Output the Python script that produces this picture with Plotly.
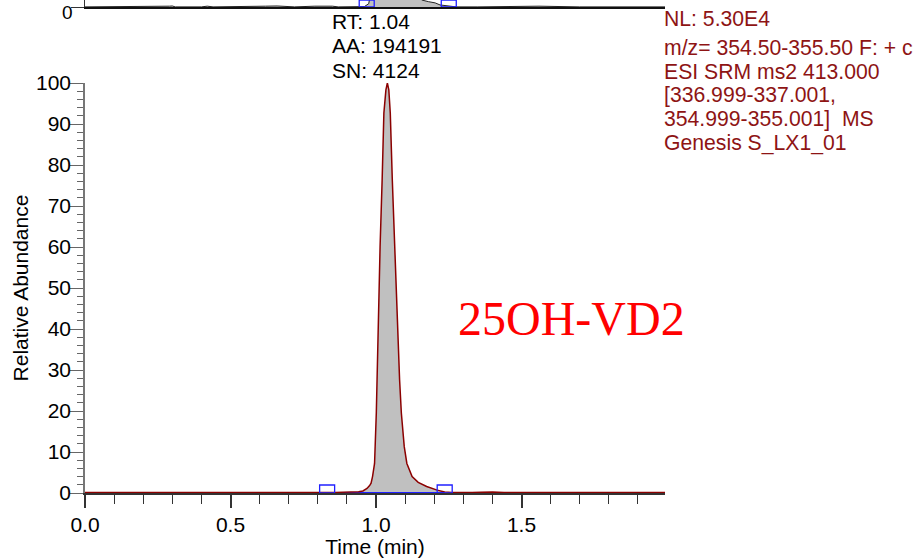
import plotly.graph_objects as go

# ---------------- data ----------------
# main chromatogram (25OH-VD2), time in min, relative abundance in %
main_time = [0.00, 0.04, 0.08, 0.12, 0.16, 0.20, 0.24, 0.28, 0.32, 0.36,
             0.40, 0.44, 0.48, 0.52, 0.56, 0.60, 0.63, 0.66, 0.70, 0.74,
             0.78, 0.81, 0.832, 0.86, 0.89, 0.92, 0.94, 0.955, 0.969, 0.978,
             0.983, 0.988, 0.995, 1.001, 1.0035, 1.008, 1.014, 1.021, 1.027, 1.034,
             1.039, 1.044, 1.049, 1.056, 1.064, 1.072, 1.081, 1.087, 1.097, 1.106,
             1.124, 1.145, 1.174, 1.21, 1.236, 1.26, 1.29, 1.33, 1.36, 1.38,
             1.40, 1.44, 1.48, 1.52, 1.56, 1.60, 1.64, 1.68, 1.72, 1.76,
             1.80, 1.84, 1.88, 1.92, 1.96, 1.993]
main_abund = [0.10, 0.15, 0.10, 0.12, 0.10, 0.15, 0.10, 0.12, 0.10, 0.15,
              0.12, 0.10, 0.15, 0.12, 0.10, 0.18, 0.25, 0.15, 0.12, 0.15,
              0.10, 0.12, 0.10, 0.15, 0.20, 0.25, 0.30, 0.50, 1.1, 1.8,
              2.4, 4.0, 7.2, 19.5, 27.6, 43.9, 60.1, 76.3, 92.7, 98.3,
              100.0, 98.3, 92.7, 76.3, 60.1, 43.9, 27.6, 19.5, 11.3, 7.2,
              4.0, 2.6, 1.6, 0.7, 0.25, 0.15, 0.10, 0.15, 0.20, 0.30,
              0.22, 0.15, 0.10, 0.15, 0.12, 0.10, 0.15, 0.12, 0.10, 0.15,
              0.12, 0.10, 0.15, 0.12, 0.10, 0.10]
main_integration = [0.832, 1.236]   # start / end of integrated peak

# upper (cut-off) chromatogram, only its base is visible
top_time = [0.00, 0.10, 0.20, 0.29, 0.30, 0.31, 0.40, 0.42, 0.44, 0.55,
            0.62, 0.66, 0.70, 0.72, 0.79, 0.82, 0.85, 0.87, 0.92, 0.96,
            0.975, 0.985, 1.00, 1.04, 1.08, 1.12, 1.157, 1.18, 1.203, 1.22,
            1.25, 1.275, 1.35, 1.48, 1.52, 1.56, 1.70, 1.90, 1.93, 1.96, 1.993]
top_abund = [0.03, 0.03, 0.03, 0.20, 0.25, 0.03, 0.03, 0.20, 0.03, 0.03,
             0.20, 0.25, 0.20, 0.03, 0.20, 0.25, 0.20, 0.03, 0.03, 0.10,
             0.80, 5.0, 40.0, 100.0, 40.0, 8.0, 1.7, 1.3, 1.0, 0.5,
             0.2, 0.03, 0.03, 0.20, 0.25, 0.20, 0.03, 0.03, 0.20, 0.03, 0.03]
top_integration = [0.968, 1.250]
top_tick = 0

y_ticks = list(range(0, 101, 10))
x_ticks = [0.0, 0.5, 1.0, 1.5]

peak_info = ["RT: 1.04", "AA: 194191", "SN: 4124"]
scan_info = ["NL: 5.30E4",
             "m/z= 354.50-355.50 F: + c",
             "ESI SRM ms2 413.000",
             "[336.999-337.001,",
             "354.999-355.001]  MS",
             "Genesis S_LX1_01"]
compound = "25OH-VD2"

# ---------------- layout geometry ----------------
W, H = 917, 558
ML, MR, MB, MT = 85, 252, 65, 0
PW, PH = W - ML - MR, H - MB - MT
FONT = "Liberation Sans, Arial, sans-serif"
DARKRED = "#8B0000"
TXTRED = "#8E1414"


def px(xp):
    return (xp - ML) / PW


def py(yp):
    return (H - MB - yp) / PH


fig = go.Figure()

# ---- main panel ----
fill_t = [t for t in main_time if main_integration[0] <= t <= main_integration[1]]
fill_a = [a for t, a in zip(main_time, main_abund) if main_integration[0] <= t <= main_integration[1]]
fig.add_trace(go.Scatter(x=fill_t, y=fill_a, mode="lines", fill="tozeroy",
                         fillcolor="#C0C0C0", line=dict(width=0),
                         xaxis="x", yaxis="y", hoverinfo="skip", showlegend=False))
fig.add_trace(go.Scatter(x=main_integration, y=[0, 0], mode="lines",
                         line=dict(color="#2020FF", width=2),
                         xaxis="x", yaxis="y", showlegend=False))
fig.add_trace(go.Scatter(x=main_time, y=main_abund, mode="lines",
                         line=dict(color=DARKRED, width=1.5),
                         xaxis="x", yaxis="y", showlegend=False))

# ---- top (cut-off) panel ----
fig.add_trace(go.Scatter(x=top_time, y=top_abund, mode="lines", fill="tozeroy",
                         fillcolor="#C0C0C0", line=dict(color="#222222", width=1),
                         xaxis="x2", yaxis="y2", showlegend=False))

shapes = []
for t in main_integration:
    shapes.append(dict(type="rect", xref="x", yref="y", xsizemode="pixel",
                       ysizemode="pixel", xanchor=t, yanchor=0,
                       x0=-7.5, x1=7.5, y0=0, y1=8,
                       line=dict(color="#2020FF", width=1.3)))
for t in top_integration:
    shapes.append(dict(type="rect", xref="x2", yref="y2", xsizemode="pixel",
                       ysizemode="pixel", xanchor=t, yanchor=0,
                       x0=-7.5, x1=7.5, y0=0, y1=7,
                       line=dict(color="#2020FF", width=1.3)))

annotations = []
for i, s in enumerate(peak_info):
    annotations.append(dict(text=s, xref="paper", yref="paper", x=px(330),
                            y=py(21.5 + 24.5 * i), xanchor="left", yanchor="middle",
                            showarrow=False, font=dict(family=FONT, size=21, color="black")))
scan_y = [18.5, 47.5, 71.5, 95.5, 119.5, 143.5]
for s, yy in zip(scan_info, scan_y):
    annotations.append(dict(text=s, xref="paper", yref="paper", x=px(662),
                            y=py(yy), xanchor="left", yanchor="middle",
                            showarrow=False, font=dict(family=FONT, size=21.2, color=TXTRED)))
annotations.append(dict(text=compound, xref="paper", yref="paper", x=px(571),
                        y=py(318), xanchor="center", yanchor="middle", showarrow=False,
                        font=dict(family="Liberation Serif, Times New Roman, serif",
                                  size=48, color="#FF0000")))
# tick label of the cut-off upper panel (kept fully inside the page)
annotations.append(dict(text=str(top_tick), xref="paper", yref="paper", x=px(74),
                        y=1, xanchor="right", yanchor="top", showarrow=False,
                        borderpad=0, yshift=-1,
                        font=dict(family=FONT, size=19, color="black")))

fig.update_layout(
    width=W, height=H,
    margin=dict(l=ML, r=MR, t=MT, b=MB, pad=0, autoexpand=False),
    paper_bgcolor="white", plot_bgcolor="white",
    font=dict(family=FONT, size=21, color="black"),
    xaxis=dict(domain=[0, 1], anchor="y", range=[0, 1.993], automargin=False,
               tickvals=x_ticks, ticktext=[f"{v:.1f}" for v in x_ticks],
               ticks="outside", ticklen=13, tickwidth=1.5, tickcolor="#333333",
               showline=True, linecolor="#333333", linewidth=1.5,
               showgrid=False, zeroline=False, ticklabelstandoff=-1,
               minor=dict(dtick=0.1, ticks="outside", ticklen=9, tickwidth=1.2,
                          tickcolor="#333333", showgrid=False),
               tickfont=dict(size=21),
               title=dict(text="Time (min)", font=dict(size=21), standoff=2)),
    yaxis=dict(domain=[0, 410 / PH], anchor="x", range=[0, 100], automargin=False,
               tickvals=y_ticks, ticks="outside", ticklen=13, tickwidth=1.2,
               tickcolor="#666666", showline=True, linecolor="#777777", linewidth=1.5,
               showgrid=False, zeroline=False, ticklabelstandoff=-5,
               minor=dict(dtick=2, ticks="outside", ticklen=6, tickwidth=1,
                          tickcolor="#666666", showgrid=False),
               tickfont=dict(size=21),
               title=dict(text="Relative Abundance", font=dict(size=21), standoff=2)),
    xaxis2=dict(domain=[0, 1], anchor="y2", range=[0, 1.993], matches="x",
                automargin=False,
                showticklabels=False, ticks="", showline=True, linecolor="#111111",
                linewidth=1.5, showgrid=False, zeroline=False),
    yaxis2=dict(domain=[(PH - 7) / PH, 1], anchor="x2", range=[0, 1.7],
                automargin=False, showticklabels=False,
                tickvals=[top_tick], ticks="outside", ticklen=13, tickcolor="#333333",
                showline=True, linecolor="#333333", linewidth=1.2,
                showgrid=False, zeroline=False),
    shapes=shapes,
    annotations=annotations,
)

fig.write_html("out.html")
